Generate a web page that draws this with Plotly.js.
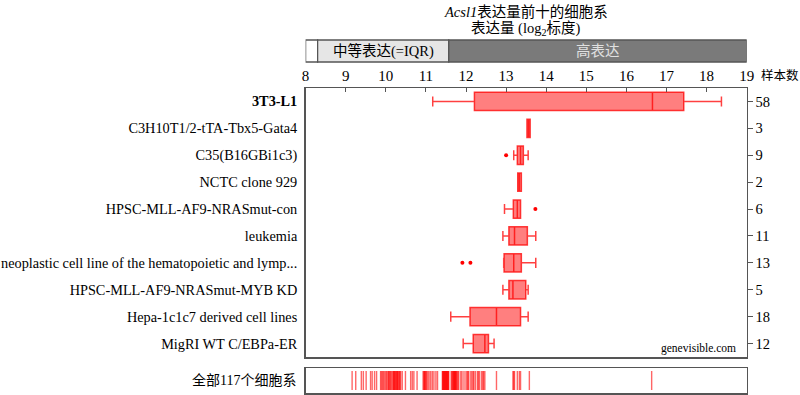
<!DOCTYPE html>
<html><head><meta charset="utf-8">
<script src="https://cdn.plot.ly/plotly-3.0.1.min.js"></script>
<style>html,body{margin:0;padding:0;background:#fff}#c{width:800px;height:395px}</style>
</head><body><div id="c"></div>
<script>
// ---- data ----
const categories = ["3T3-L1","C3H10T1/2-tTA-Tbx5-Gata4","C35(B16GBi1c3)","NCTC clone 929","HPSC-MLL-AF9-NRASmut-con","leukemia","neoplastic cell line of the hematopoietic and lymp...","HPSC-MLL-AF9-NRASmut-MYB KD","Hepa-1c1c7 derived cell lines","MigRI WT C/EBPa-ER"];
const sampleCounts = [58,3,9,2,6,11,13,5,18,12];
const lowerWhisker = [11.17,13.52,13.19,13.29,12.96,12.92,12.94,12.92,11.62,11.93];
const q1Values     = [12.21,13.52,13.28,13.29,13.18,13.07,12.95,13.07,12.10,12.18];
const medianValues = [16.65,13.56,13.36,13.33,13.28,13.21,13.19,13.17,12.76,12.47];
const q3Values     = [17.43,13.60,13.43,13.38,13.36,13.53,13.38,13.49,13.36,12.56];
const upperWhisker = [18.37,13.60,13.55,13.38,13.36,13.74,13.74,13.55,13.55,12.70];
const outlierCats  = ["C35(B16GBi1c3)","HPSC-MLL-AF9-NRASmut-con","neoplastic cell line of the hematopoietic and lymp...","neoplastic cell line of the hematopoietic and lymp..."];
const outlierVals  = [13.00,13.73,11.91,12.11];
const xTicks = [8,9,10,11,12,13,14,15,16,17,18,19];
const bandEdges = [8, 8.30, 11.57, 19];
const bandLabels = ["", "中等表达(=IQR)", "高表达"];
const allCellLineMedians = [
 16.63,13.58,13.36,13.33,13.28,13.21,13.19,13.17,12.76,12.47,
 9.16,9.25,9.39,9.44,9.51,9.62,9.66,9.72,9.77,
 9.87,9.89,9.92,9.94,9.97,10.0,10.02,10.05,10.07,10.08,10.1,10.12,10.14,10.17,10.19,10.2,10.21,10.22,10.24,10.25,10.27,10.28,10.29,10.3,10.32,10.34,10.35,10.37,
 10.41,10.49,10.62,10.66,10.7,10.78,
 10.93,10.95,10.96,10.97,10.99,11.0,11.02,11.05,11.08,11.12,11.16,11.2,11.25,11.29,
 11.41,11.42,11.43,11.44,11.45,11.46,11.47,11.48,11.49,11.5,11.51,11.52,11.53,11.54,11.55,11.56,11.57,
 11.63,11.65,11.66,11.68,11.69,11.7,11.71,11.72,11.73,11.74,11.75,11.76,11.78,11.8,11.82,
 11.87,11.9,11.95,12.0,12.03,12.05,12.07,12.12,12.15,12.18,12.2,12.24,12.29,12.31,12.34,12.39,12.42,12.44
];

// ---- build ----
const FONT = '"Liberation Serif","Times New Roman","Noto Sans CJK SC",serif';
const ticktextCats = categories.map((c,i)=> i===0 ? '<b>'+c+'</b>' : c);
const rugX = [], rugY = [];
allCellLineMedians.forEach(v=>{ rugX.push(v,v,null); rugY.push(0.12,0.88,null); });
const rowIdx = categories.map((c,i)=>i);

const traces = [
 {type:'box', orientation:'h', y:categories, q1:q1Values, median:medianValues, q3:q3Values,
  lowerfence:lowerWhisker, upperfence:upperWhisker, boxpoints:false,
  fillcolor:'rgba(255,0,0,0.5)', line:{color:'rgba(255,0,0,0.75)', width:1.5},
  width:0.68, whiskerwidth:0.55, xaxis:'x', yaxis:'y', hoverinfo:'skip', showlegend:false},
 {type:'scatter', mode:'markers', x:outlierVals, y:outlierCats, marker:{color:'red', size:4},
  xaxis:'x', yaxis:'y', showlegend:false, hoverinfo:'skip'},
 {type:'scatter', mode:'markers', x:medianValues, y:rowIdx, marker:{opacity:0, size:1},
  xaxis:'x', yaxis:'y4', showlegend:false, hoverinfo:'skip'},
 {type:'scatter', mode:'lines', x:rugX, y:rugY, line:{color:'rgba(255,0,0,0.6)', width:1.4},
  xaxis:'x3', yaxis:'y3', showlegend:false, hoverinfo:'skip'}
];

const xd = [305.6/800, 746.7/800];
const py = y => 1 - y/395;
const shapes = [];
const bandFill = ['#ffffff','#e6e6e6','#7a7a7a'];
for (let i=0;i<3;i++){
  shapes.push({type:'rect', xref:'x', yref:'paper', x0:bandEdges[i], x1:bandEdges[i+1], y0:py(62), y1:py(40),
    fillcolor:bandFill[i], line:{color:'#555', width:1.3}});
}
const ann = (x,y,text,size,xa,color,xref)=>({xref:xref||'paper', yref:'paper', x:x, y:y, xanchor:xa||'center', yanchor:'middle',
  text:text, showarrow:false, font:{family:FONT,size:size,color:color||'#000'}});
const annotations = [
 ann((xd[0]+xd[1])/2, py(12), '<i>Acsl1</i>表达量前十的细胞系', 14.5),
 ann((xd[0]+xd[1])/2, py(29), '表达量 (log<sub>2</sub>标度)', 14.5),
 ann((bandEdges[1]+bandEdges[2])/2, py(51), bandLabels[1], 14.5, 'center', '#000', 'x'),
 ann((bandEdges[2]+bandEdges[3])/2, py(51), bandLabels[2], 14.5, 'center', '#e0e0e0', 'x'),
 ann(759/800, py(75), '样本数', 12.5, 'left'),
 ann(738/800, py(348), 'genevisible.com', 11.5, 'right'),
 ann(298/800, py(380), '全部117个细胞系', 14, 'right')
];

const layout = {
  width:800, height:395, margin:{l:0,r:0,t:0,b:0}, paper_bgcolor:'#fff', plot_bgcolor:'#fff',
  font:{family:FONT, size:13, color:'#000'}, showlegend:false,
  xaxis:{domain:xd, range:[8,19], side:'top', tickvals:xTicks, ticks:'inside', ticklen:4, tickcolor:'#555',
    showline:true, mirror:true, linecolor:'#555', linewidth:1.5, showgrid:false, zeroline:false,
    tickfont:{family:FONT,size:15}, anchor:'y'},
  yaxis:{domain:[py(357), py(88)], type:'category', categoryorder:'array', categoryarray:categories,
    range:[9.5,-0.5], tickvals:categories, ticktext:ticktextCats, ticks:'', showline:true, mirror:true,
    linecolor:'#555', linewidth:1.5, showgrid:false, zeroline:false, tickfont:{family:FONT,size:14.3}, anchor:'x', ticklabelstandoff:4},
  yaxis4:{overlaying:'y', side:'right', range:[9.5,-0.5], tickvals:rowIdx, ticktext:sampleCounts.map(String),
    ticks:'outside', ticklen:5, tickcolor:'#555', showline:false, showgrid:false, zeroline:false, tickfont:{family:FONT,size:14.5}, anchor:'x'},
  xaxis3:{domain:xd, range:[8,19], anchor:'y3', showticklabels:false, ticks:'', showline:true, mirror:true,
    linecolor:'#555', linewidth:1.5, showgrid:false, zeroline:false},
  yaxis3:{domain:[py(393), py(368)], range:[0,1], anchor:'x3', showticklabels:false, ticks:'', showline:true, mirror:true,
    linecolor:'#555', linewidth:1.5, showgrid:false, zeroline:false},
  shapes:shapes, annotations:annotations
};
Plotly.newPlot('c', traces, layout, {staticPlot:true, displayModeBar:false});
</script></body></html>
